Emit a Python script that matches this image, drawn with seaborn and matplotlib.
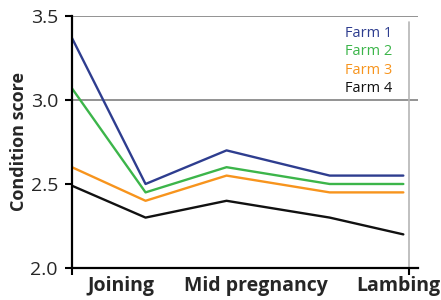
import pandas as pd
import matplotlib.pyplot as plt
import seaborn as sns

# Datos
farms = ["Farm 1", "Farm 2", "Farm 3", "Farm 4"]
stage_x = [0.0, 1.0, 2.1, 3.5, 4.5]
farm1 = [3.37, 2.50, 2.70, 2.55, 2.55]
farm2 = [3.07, 2.45, 2.60, 2.50, 2.50]
farm3 = [2.60, 2.40, 2.55, 2.45, 2.45]
farm4 = [2.49, 2.30, 2.40, 2.30, 2.20]
stage_labels = ["Joining", "Mid pregnancy", "Lambing"]
label_x = [0.67, 2.5, 4.43]
colors = ["#2e3d8f", "#3cb54a", "#f7941d", "#111111"]

df = pd.DataFrame({
    "x": stage_x * 4,
    "score": farm1 + farm2 + farm3 + farm4,
    "farm": [f for f in farms for _ in stage_x],
})

sns.set_style("white")
plt.rcParams["font.family"] = ["Open Sans", "DejaVu Sans"]

fig = plt.figure(figsize=(4.41, 3.0), dpi=100)
ax = fig.add_axes([0.163, 0.1067, 0.785, 0.84])

# Lineas de referencia
for y in [3.0, 3.5]:
    ax.axhline(y, color="#8a8a8a", linewidth=1.3, zorder=0)
ax.axvline(4.58, ymin=0, ymax=0.975, color="#b5b5b5", linewidth=1.2, zorder=0)

sns.lineplot(data=df, x="x", y="score", hue="farm", palette=colors,
             linewidth=1.7, legend=False, ax=ax)

# Leyenda como texto
for i, (farm, c) in enumerate(zip(farms, colors)):
    ax.text(3.71, 3.395 - i * 0.109, farm, color=c, fontsize=10.5, va="center")

ax.set_xlim(0, 4.7)
ax.set_ylim(2.0, 3.5)
ax.set_yticks([2.0, 2.5, 3.0, 3.5])
ax.set_yticklabels(["2.0", "2.5", "3.0", "3.5"], fontsize=14)
ax.set_xticks([0, 4.58])
ax.set_xticklabels(["", ""])
ax.set_xticks(label_x, stage_labels, minor=True)
ax.tick_params(axis="x", which="minor", length=0, labelsize=14, pad=6)
for t in ax.get_xticklabels(minor=True):
    t.set_fontweight("bold")
ax.tick_params(axis="both", which="major", direction="out", length=5,
               width=1.5, color="black", left=True, bottom=True)
ax.tick_params(axis="y", pad=5)
ax.set_xlabel("")
ax.set_ylabel("Condition score", fontsize=13, fontweight="bold", labelpad=2)

sns.despine(ax=ax)
for s in ["left", "bottom"]:
    ax.spines[s].set_linewidth(1.6)
    ax.spines[s].set_color("black")

fig.savefig("out.png", dpi=100)
